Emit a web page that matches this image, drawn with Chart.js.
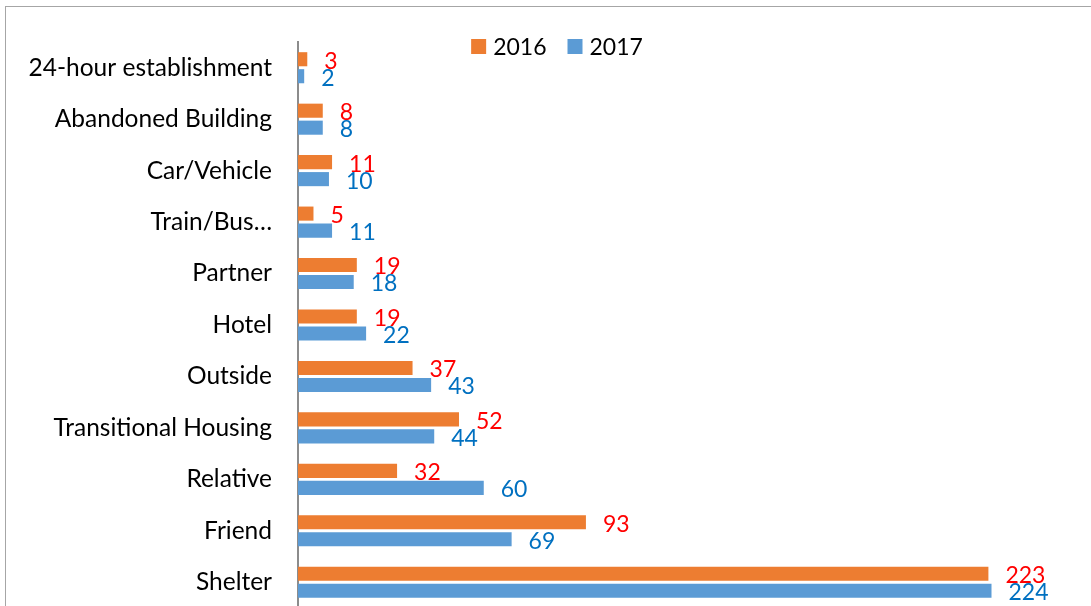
<!DOCTYPE html>
<html>
<head>
<meta charset="utf-8">
<script src="https://cdn.jsdelivr.net/npm/chart.js@4.4.1/dist/chart.umd.min.js"></script>
<style>
  html, body { margin: 0; padding: 0; background: #ffffff; overflow: hidden; }
  #wrap { position: relative; width: 1091px; height: 606px; overflow: hidden; }
  #frame { position: absolute; left: 5px; top: 6px; width: 1300px; height: 900px; border: 1.5px solid #a6a6a6; box-sizing: border-box; }
  #locations-chart { position: absolute; left: 0; top: 0; }
</style>
</head>
<body>
<div id="wrap">
  <div id="frame"></div>
  <canvas id="locations-chart" width="1091" height="608"></canvas>
</div>
<script>
// categories, top to bottom
const categories = [
  '24-hour establishment',
  'Abandoned Building',
  'Car/Vehicle',
  'Train/Bus…',
  'Partner',
  'Hotel',
  'Outside',
  'Transitional Housing',
  'Relative',
  'Friend',
  'Shelter',
];
const seriesNames = ['2016', '2017'];
const values2016 = [3, 8, 11, 5, 19, 19, 37, 52, 32, 93, 223];
const values2017 = [2, 8, 10, 11, 18, 22, 43, 44, 60, 69, 224];

const orange = '#ED7D31';
const blue = '#5B9BD5';
const labelColors = ['#FF0000', '#0070C0'];
const fontFamily = 'Lato, "Open Sans", sans-serif';

// value labels to the right of each bar
const barLabels = {
  id: 'barLabels',
  afterDatasetsDraw(chart) {
    const ctx = chart.ctx;
    ctx.save();
    ctx.font = '23px ' + fontFamily;
    ctx.textAlign = 'left';
    ctx.textBaseline = 'middle';
    chart.data.datasets.forEach((ds, i) => {
      const meta = chart.getDatasetMeta(i);
      ctx.fillStyle = labelColors[i];
      meta.data.forEach((bar, j) => {
        ctx.fillText(String(ds.data[j]), bar.x + 17, bar.y + 2);
      });
    });
    ctx.restore();
  },
};

// legend drawn over the top of the plot, like the original
const topLegend = {
  id: 'topLegend',
  afterDraw(chart) {
    const ctx = chart.ctx;
    ctx.save();
    ctx.font = '23px ' + fontFamily;
    ctx.textBaseline = 'middle';
    ctx.textAlign = 'left';
    const box = 15, gap = 7, spacing = 21;
    const items = chart.data.datasets.map((ds) => ({
      text: ds.label,
      color: ds.backgroundColor,
      w: box + gap + ctx.measureText(ds.label).width,
    }));
    const total = items.reduce((s, it) => s + it.w, 0) + spacing * (items.length - 1);
    let x = 557 - total / 2;
    const y = 46.5;
    items.forEach((it) => {
      ctx.fillStyle = it.color;
      ctx.fillRect(x, y - box / 2, box, box);
      ctx.fillStyle = '#000000';
      ctx.fillText(it.text, x + box + gap, y + 1);
      x += it.w + spacing;
    });
    ctx.restore();
  },
};

const ctx = document.getElementById('locations-chart').getContext('2d');
new Chart(ctx, {
  type: 'bar',
  data: {
    labels: categories,
    datasets: [
      {
        label: seriesNames[0],
        data: values2016,
        backgroundColor: orange,
        categoryPercentage: 0.66,
        barPercentage: 0.83,
      },
      {
        label: seriesNames[1],
        data: values2017,
        backgroundColor: blue,
        categoryPercentage: 0.66,
        barPercentage: 0.83,
      },
    ],
  },
  options: {
    indexAxis: 'y',
    responsive: false,
    animation: false,
    layout: {
      padding: { left: 0, right: 19, top: 42, bottom: 0 },
    },
    plugins: {
      legend: { display: false },
      tooltip: { enabled: false },
      title: { display: false },
    },
    scales: {
      x: {
        display: false,
        min: 0,
        max: 250,
      },
      y: {
        afterFit(scale) {
          scale.width = 298;
          scale.paddingTop = 0;
          scale.paddingBottom = 0;
        },
        grid: { display: false, drawTicks: false },
        border: { display: true, color: '#8c8c8c', width: 2 },
        ticks: {
          padding: 26,
          color: '#000000',
          font: { family: fontFamily, size: 24.5 },
        },
      },
    },
  },
  plugins: [barLabels, topLegend],
});
</script>
</body>
</html>
